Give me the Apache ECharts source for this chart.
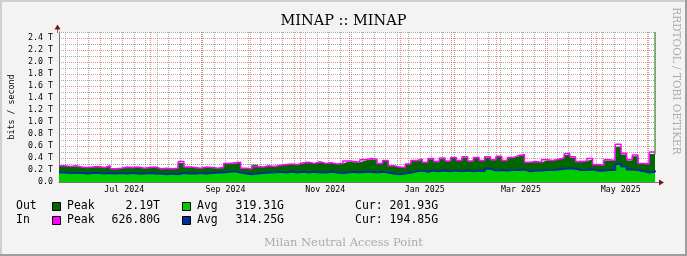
<!DOCTYPE html>
<html><head><meta charset="utf-8">
<script src="https://cdn.jsdelivr.net/npm/echarts@6.0.0/dist/echarts.min.js"></script>
<style>html,body{margin:0;padding:0;background:#f3f3f3}#c{width:687px;height:256px}</style>
</head><body><div id="c"></div>
<script>
// ---- data (values in T bits/s), samples evenly spaced over Jun 6 2024 .. Jun 6 2025 ----
const startDate = Date.UTC(2024, 5, 6);
const spanDays = 365;
const monthNames = ['Jan','Feb','Mar','Apr','May','Jun','Jul','Aug','Sep','Oct','Nov','Dec'];

const outPeak = [0.26,0.25,0.25,0.24,0.23,0.24,0.24,0.23,0.25,0.21,
 0.22,0.23,0.23,0.24,0.22,0.23,0.24,0.21,0.22,0.21,
 0.22,0.31,0.24,0.23,0.22,0.24,0.23,0.22,0.23,0.29,
 0.30,0.31,0.22,0.21,0.28,0.24,0.26,0.25,0.27,0.28,
 0.29,0.28,0.30,0.32,0.30,0.32,0.30,0.31,0.29,0.30,
 0.33,0.32,0.32,0.35,0.37,0.36,0.30,0.34,0.26,0.24,
 0.23,0.29,0.34,0.36,0.32,0.37,0.33,0.38,0.34,0.39,
 0.35,0.40,0.34,0.39,0.35,0.40,0.36,0.41,0.35,0.39,
 0.42,0.44,0.32,0.33,0.32,0.35,0.35,0.37,0.39,0.44,
 0.40,0.33,0.34,0.37,0.28,0.27,0.35,0.35,0.58,0.45,
 0.35,0.42,0.30,0.29,0.46,2.5];
const outAvg = [0.15,0.14,0.14,0.14,0.13,0.14,0.14,0.13,0.14,0.13,
 0.14,0.13,0.14,0.13,0.13,0.14,0.13,0.13,0.12,0.13,
 0.12,0.14,0.13,0.13,0.14,0.13,0.14,0.15,0.15,0.16,
 0.17,0.15,0.13,0.12,0.13,0.14,0.15,0.15,0.16,0.15,
 0.16,0.15,0.16,0.15,0.16,0.15,0.15,0.16,0.15,0.14,
 0.15,0.16,0.15,0.16,0.16,0.15,0.16,0.15,0.13,0.12,
 0.13,0.15,0.17,0.18,0.16,0.18,0.17,0.18,0.17,0.18,
 0.17,0.18,0.17,0.18,0.17,0.21,0.18,0.19,0.18,0.19,
 0.19,0.20,0.17,0.18,0.18,0.19,0.19,0.20,0.21,0.22,
 0.21,0.19,0.19,0.20,0.18,0.18,0.19,0.19,0.29,0.25,
 0.20,0.19,0.17,0.15,0.16,0.18];
const inPeak = [0.27,0.26,0.27,0.25,0.24,0.25,0.26,0.24,0.27,0.22,
 0.23,0.25,0.24,0.25,0.23,0.24,0.25,0.22,0.23,0.22,
 0.23,0.34,0.25,0.24,0.23,0.25,0.24,0.23,0.24,0.31,
 0.32,0.33,0.23,0.22,0.26,0.25,0.27,0.26,0.28,0.29,
 0.30,0.29,0.32,0.33,0.31,0.34,0.31,0.32,0.30,0.31,
 0.35,0.34,0.33,0.37,0.39,0.38,0.31,0.36,0.27,0.25,
 0.24,0.30,0.36,0.38,0.33,0.39,0.34,0.40,0.35,0.41,
 0.36,0.42,0.35,0.41,0.36,0.42,0.37,0.43,0.36,0.41,
 0.44,0.46,0.33,0.34,0.33,0.37,0.36,0.38,0.40,0.47,
 0.42,0.34,0.35,0.39,0.29,0.28,0.37,0.36,0.63,0.48,
 0.37,0.45,0.31,0.30,0.50,0.50];
const inAvg = [0.16,0.15,0.15,0.15,0.14,0.15,0.15,0.14,0.15,0.14,
 0.15,0.14,0.15,0.14,0.14,0.15,0.14,0.14,0.13,0.14,
 0.13,0.15,0.14,0.14,0.15,0.14,0.15,0.16,0.16,0.17,
 0.18,0.16,0.14,0.13,0.14,0.15,0.16,0.16,0.17,0.16,
 0.17,0.16,0.17,0.16,0.17,0.16,0.16,0.17,0.16,0.15,
 0.16,0.17,0.16,0.17,0.17,0.16,0.17,0.16,0.14,0.13,
 0.14,0.16,0.18,0.19,0.17,0.19,0.18,0.19,0.18,0.19,
 0.18,0.19,0.18,0.19,0.18,0.22,0.19,0.20,0.19,0.20,
 0.20,0.21,0.18,0.19,0.19,0.20,0.20,0.21,0.22,0.23,
 0.22,0.20,0.20,0.21,0.19,0.19,0.20,0.20,0.30,0.26,
 0.21,0.20,0.18,0.16,0.17,0.19];

const yMax = 2.5;
const legendRows = [
  {name:'Out', peakColor:'#006600', peak:'2.19T',   avgColor:'#00cc00', avg:'319.31G', cur:'Cur: 201.93G'},
  {name:'In',  peakColor:'#ff00ff', peak:'626.80G', avgColor:'#002f9a', avg:'314.25G', cur:'Cur: 194.85G'}
];

// ---- build ----
const days = [];
for (let k = 0; k <= spanDays; k++) days.push(new Date(startDate + k * 86400000));
const dayKeys = days.map((d, k) => String(k));
const toXY = arr => arr.map((v, i) => [i * spanDays / (arr.length - 1), v]);

const MONO = "'DejaVu Sans Mono', monospace";
const SERIF = "'DejaVu Serif', serif";
const GRID_GRAY = 'rgba(110,110,110,0.6)';
const GRID_RED = 'rgba(225,70,70,0.6)';

const redColors = [];
for (let t = 0; t <= 13; t++) redColors.push(t === 13 ? 'transparent' : GRID_RED);

const graphic = [
  {type:'rect', shape:{x:0,y:0,width:687,height:2}, style:{fill:'#cfcfcf'}, silent:true},
  {type:'rect', shape:{x:0,y:0,width:2,height:256}, style:{fill:'#cfcfcf'}, silent:true},
  {type:'rect', shape:{x:0,y:254,width:687,height:2}, style:{fill:'#9e9e9e'}, silent:true},
  {type:'rect', shape:{x:685,y:0,width:2,height:256}, style:{fill:'#9e9e9e'}, silent:true},
  {type:'text', x:343.5, y:21, style:{text:'MINAP :: MINAP', font:"14.5px "+SERIF, fill:'#000', textAlign:'center', textVerticalAlign:'middle'}},
  {type:'text', x:343.5, y:243, style:{text:'Milan Neutral Access Point', font:"11.5px "+SERIF, fill:'#ababab', textAlign:'center', textVerticalAlign:'middle'}},
  {type:'text', x:676, y:81, rotation:-Math.PI/2, style:{text:'RRDTOOL / TOBI OETIKER', font:"10.5px "+SERIF, fill:'#ababab', textAlign:'center', textVerticalAlign:'middle'}},
  {type:'line', shape:{x1:57.5,y1:29,x2:57.5,y2:33}, style:{stroke:'#777',lineWidth:1}},
  {type:'polygon', shape:{points:[[54.5,29.5],[60.5,29.5],[57.5,24.5]]}, style:{fill:'#7a1010'}},
  {type:'line', shape:{x1:654,y1:182.5,x2:659,y2:182.5}, style:{stroke:'#777',lineWidth:1}},
  {type:'polygon', shape:{points:[[659,179.5],[659,185.5],[664,182.5]]}, style:{fill:'#7a1010'}}
];
legendRows.forEach((r, j) => {
  const y = 206 + j * 14;
  graphic.push(
    {type:'text', x:16, y:y, style:{text:r.name, font:"11.5px "+MONO, fill:'#000', textVerticalAlign:'middle'}},
    {type:'rect', shape:{x:52.5,y:y-3.5,width:8,height:8}, style:{fill:r.peakColor, stroke:'#000', lineWidth:1}},
    {type:'text', x:67, y:y, style:{text:'Peak', font:"11.5px "+MONO, fill:'#000', textVerticalAlign:'middle'}},
    {type:'text', x:160, y:y, style:{text:r.peak, font:"11.5px "+MONO, fill:'#000', textAlign:'right', textVerticalAlign:'middle'}},
    {type:'rect', shape:{x:182.5,y:y-3.5,width:8,height:8}, style:{fill:r.avgColor, stroke:'#000', lineWidth:1}},
    {type:'text', x:197, y:y, style:{text:'Avg', font:"11.5px "+MONO, fill:'#000', textVerticalAlign:'middle'}},
    {type:'text', x:284, y:y, style:{text:r.avg, font:"11.5px "+MONO, fill:'#000', textAlign:'right', textVerticalAlign:'middle'}},
    {type:'text', x:355, y:y, style:{text:r.cur, font:"11.5px "+MONO, fill:'#000', textVerticalAlign:'middle'}}
  );
});

const chart = echarts.init(document.getElementById('c'), null, {renderer:'canvas'});
chart.setOption({
  animation:false,
  backgroundColor:'#f3f3f3',
  grid:{left:57, right:32, top:32, bottom:74, show:true, backgroundColor:'#ffffff', borderWidth:0},
  xAxis:[
    {type:'value', min:0, max:spanDays, show:false},
    {type:'category', data:dayKeys, boundaryGap:false, position:'bottom',
     axisLine:{show:false}, axisTick:{show:false}, axisLabel:{show:false},
     splitLine:{show:true, interval:(i)=>days[i].getUTCDay()===1 && days[i].getUTCDate()!==1,
       lineStyle:{color:GRID_GRAY, type:[1,1], width:1}}},
    {type:'category', data:dayKeys, boundaryGap:false, position:'bottom',
     axisLine:{show:true, lineStyle:{color:'#777', width:1}}, axisTick:{show:false},
     axisLabel:{show:true, margin:4, fontFamily:MONO, fontSize:8.3, color:'#000',
       interval:(i)=>days[i].getUTCDate()===16 && days[i].getUTCMonth()%2===0,
       formatter:(v)=>{const d=days[+v]; return monthNames[d.getUTCMonth()]+' '+d.getUTCFullYear();}},
     splitLine:{show:true, interval:(i)=>days[i].getUTCDate()===1,
       lineStyle:{color:GRID_RED, type:[1,1], width:1}}}
  ],
  yAxis:[
    {type:'value', min:0, max:yMax, interval:0.2, position:'left',
     name:'bits / second', nameLocation:'middle', nameGap:43,
     nameTextStyle:{fontFamily:MONO, fontSize:8.3, color:'#000'},
     axisLine:{show:true, lineStyle:{color:'#777', width:1}}, axisTick:{show:false},
     axisLabel:{margin:6, fontFamily:MONO, fontSize:8.3, color:'#000',
       formatter:(v)=> v > 2.45 ? '' : (v === 0 ? '0.0' : v.toFixed(1) + ' T')},
     splitLine:{show:true, lineStyle:{color:redColors, type:[1,1], width:1}}},
    {type:'value', min:0, max:yMax, interval:0.1, position:'left',
     axisLine:{show:false}, axisTick:{show:false}, axisLabel:{show:false},
     splitLine:{show:true, lineStyle:{color:['transparent', GRID_GRAY], type:[1,1], width:1}}}
  ],
  series:[
    {type:'line', name:'Out Peak', data:toXY(outPeak), step:'end', symbol:'none', silent:true,
     lineStyle:{width:1, color:'#006600'}, areaStyle:{color:'#006600', opacity:1}},
    {type:'line', name:'Out Avg', data:toXY(outAvg), step:'end', symbol:'none', silent:true,
     lineStyle:{width:0, color:'#00cc00'}, areaStyle:{color:'#00cc00', opacity:1}},
    {type:'line', name:'In Peak', data:toXY(inPeak), step:'end', symbol:'none', silent:true,
     lineStyle:{width:1.5, color:'#ff00ff'}},
    {type:'line', name:'In Avg', data:toXY(inAvg), step:'end', symbol:'none', silent:true,
     lineStyle:{width:2, color:'#002f9a'}}
  ],
  graphic:graphic
});
</script></body></html>
